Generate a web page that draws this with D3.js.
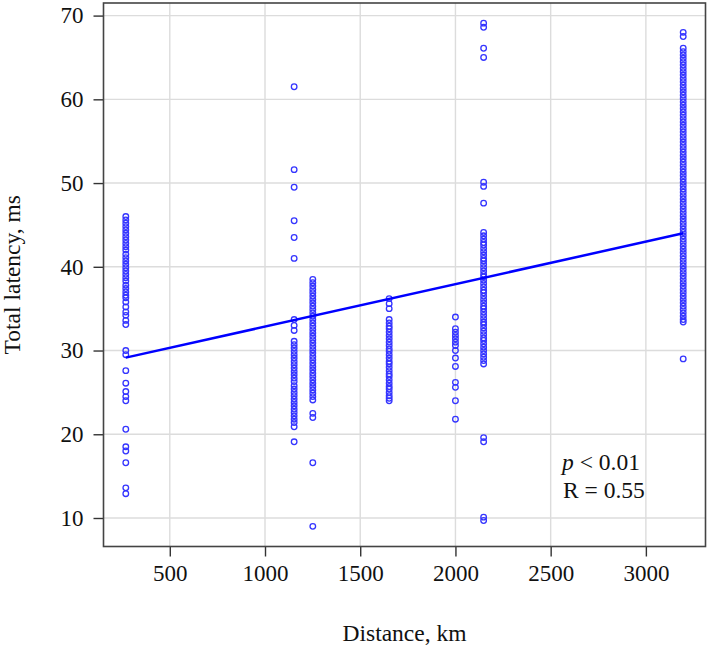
<!DOCTYPE html>
<html>
<head>
<meta charset="utf-8">
<script src="https://cdn.jsdelivr.net/npm/d3@7"></script>
<style>
  html, body { margin: 0; padding: 0; background: #fff; }
  svg { display: block; }
  text { font-family: "Liberation Serif", "Times New Roman", serif; fill: #111; }
</style>
</head>
<body>
<svg id="chart" width="709" height="650"></svg>
<script>
// Distance (km) of each measured column
const distances = [269, 1153, 1251, 1652, 2000, 2148, 3196];

// Total latency (ms) values read from each column
const latency269 = [46.0, 45.6, 45.2, 44.8, 44.4, 44.0, 43.6, 43.2, 42.8, 42.4, 42.0, 41.5, 41.1, 40.7, 40.3, 39.9, 39.5, 39.1, 38.7, 38.3, 37.8, 37.4, 37.0, 36.6, 36.3, 35.8, 35.2, 34.6, 34.2, 33.6, 33.1, 30.0, 29.5, 27.6, 26.1, 25.1, 24.5, 24.0, 20.6, 18.5, 18.0, 16.6, 13.6, 12.9];
const latency1153 = [61.5, 51.6, 49.5, 45.5, 43.5, 41.0, 33.7, 33.0, 32.4, 31.1, 30.7, 30.3, 29.9, 29.5, 29.1, 28.7, 28.3, 27.9, 27.5, 27.1, 26.7, 26.3, 25.8, 25.4, 25.0, 24.6, 24.2, 23.8, 23.4, 23.0, 22.6, 22.2, 21.8, 21.4, 20.9, 19.1];
const latency1251 = [38.5, 38.1, 37.7, 37.3, 36.9, 36.5, 36.1, 35.7, 35.3, 34.9, 34.5, 34.1, 33.7, 33.3, 32.9, 32.5, 32.1, 31.7, 31.3, 30.9, 30.5, 30.1, 29.7, 29.3, 28.9, 28.5, 28.1, 27.7, 27.3, 26.9, 26.5, 26.1, 25.7, 25.3, 24.9, 24.5, 24.1, 22.5, 22.0, 16.6, 9.0];
const latency1652 = [36.2, 35.6, 35.0, 33.7, 33.3, 32.9, 32.6, 32.2, 31.8, 31.4, 31.0, 30.6, 30.2, 29.9, 29.5, 29.1, 28.7, 28.4, 28.0, 27.6, 27.2, 26.9, 26.5, 26.1, 25.7, 25.4, 25.0, 24.6, 24.3, 24.0];
const latency2000 = [34.0, 32.6, 32.2, 31.8, 31.4, 31.0, 30.6, 30.0, 29.1, 28.1, 26.2, 25.6, 24.0, 21.8];
const latency2148 = [69.1, 68.6, 66.1, 65.0, 50.1, 49.6, 47.6, 44.1, 43.7, 43.3, 42.9, 42.6, 42.2, 41.8, 41.4, 41.0, 40.7, 40.3, 39.9, 39.5, 39.1, 38.8, 38.4, 38.0, 37.6, 37.2, 36.9, 36.5, 36.1, 35.7, 35.3, 35.0, 34.6, 34.2, 33.8, 33.4, 33.1, 32.7, 32.3, 31.9, 31.5, 31.2, 30.8, 30.4, 30.0, 29.6, 29.2, 28.8, 28.4, 19.6, 19.1, 10.1, 9.7];
const latency3196 = [68.0, 67.5, 66.1, 65.7, 65.3, 64.9, 64.5, 64.1, 63.7, 63.3, 62.9, 62.5, 62.1, 61.7, 61.3, 60.9, 60.5, 60.1, 59.7, 59.3, 58.9, 58.5, 58.1, 57.7, 57.3, 56.9, 56.5, 56.1, 55.7, 55.3, 54.9, 54.5, 54.1, 53.7, 53.3, 52.9, 52.5, 52.1, 51.7, 51.3, 50.9, 50.5, 50.1, 49.7, 49.3, 48.9, 48.5, 48.1, 47.7, 47.3, 46.9, 46.5, 46.1, 45.7, 45.3, 44.9, 44.5, 44.1, 43.7, 43.3, 42.9, 42.5, 42.1, 41.7, 41.3, 40.9, 40.5, 40.1, 39.7, 39.3, 38.9, 38.5, 38.1, 37.7, 37.3, 36.9, 36.5, 36.1, 35.7, 35.3, 34.9, 34.5, 34.1, 33.7, 33.4, 29.0];
const latencyColumns = [latency269, latency1153, latency1251, latency1652, latency2000, latency2148, latency3196];

// Fitted regression line end points
const fitX = [269, 3196];
const fitY = [29.15, 44.0];

// Ticks
const xTicks = [500, 1000, 1500, 2000, 2500, 3000];
const yTicks = [10, 20, 30, 40, 50, 60, 70];

// Labels
const xLabel = "Distance, km";
const yLabel = "Total latency, ms";
const statP = "< 0.01";
const statR = "R = 0.55";

// ---------- drawing ----------
const svg = d3.select("#chart");
const plot = { left: 103.5, right: 705.5, top: 3, bottom: 546.5 };

const points = [];
distances.forEach((d, i) => latencyColumns[i].forEach(v => points.push({ x: d, y: v })));

const allY = points.map(p => p.y);
const xMin = d3.min(distances), xMax = d3.max(distances);
const yMin = d3.min(allY), yMax = d3.max(allY);
const xPad = (xMax - xMin) * 0.04, yPad = (yMax - yMin) * 0.04;

const x = d3.scaleLinear().domain([xMin - xPad, xMax + xPad]).range([plot.left, plot.right]);
const y = d3.scaleLinear().domain([yMin - yPad, yMax + yPad]).range([plot.bottom, plot.top]);

// gridlines
const grid = svg.append("g").attr("stroke", "#dcdcdc").attr("stroke-width", 1.4);
grid.selectAll("line.vx").data(xTicks).enter().append("line")
  .attr("x1", d => x(d)).attr("x2", d => x(d))
  .attr("y1", plot.top).attr("y2", plot.bottom);
grid.selectAll("line.hy").data(yTicks).enter().append("line")
  .attr("y1", d => y(d)).attr("y2", d => y(d))
  .attr("x1", plot.left).attr("x2", plot.right);

// axes
const xAxis = d3.axisBottom(x).tickValues(xTicks).tickSize(10).tickPadding(8).tickFormat(d3.format("d"));
const yAxis = d3.axisLeft(y).tickValues(yTicks).tickSize(10).tickPadding(10).tickFormat(d3.format("d"));

const gx = svg.append("g").attr("transform", `translate(0,${plot.bottom})`).call(xAxis);
const gy = svg.append("g").attr("transform", `translate(${plot.left},0)`).call(yAxis);
[gx, gy].forEach(g => {
  g.select(".domain").remove();
  g.selectAll(".tick line").attr("stroke", "#333").attr("stroke-width", 1.4);
  g.selectAll(".tick text").style("font-family", '"Liberation Serif", serif').style("font-size", "23px").attr("fill", "#111");
});

// points
svg.append("g").selectAll("circle").data(points).enter().append("circle")
  .attr("cx", d => x(d.x)).attr("cy", d => y(d.y)).attr("r", 2.8)
  .attr("fill", "none").attr("stroke", "#3535ff").attr("stroke-width", 1.3);

// regression line
svg.append("line")
  .attr("x1", x(fitX[0])).attr("y1", y(fitY[0]))
  .attr("x2", x(fitX[1])).attr("y2", y(fitY[1]))
  .attr("stroke", "#0000ff").attr("stroke-width", 2.5);

// frame
svg.append("rect")
  .attr("x", plot.left).attr("y", plot.top)
  .attr("width", plot.right - plot.left).attr("height", plot.bottom - plot.top)
  .attr("fill", "none").attr("stroke", "#444").attr("stroke-width", 1.6);

// axis titles
svg.append("text").attr("x", (plot.left + plot.right) / 2).attr("y", 641)
  .attr("text-anchor", "middle").style("font-size", "23.5px").text(xLabel);
svg.append("text").attr("transform", `translate(20,${(plot.top + plot.bottom) / 2}) rotate(-90)`)
  .attr("text-anchor", "middle").style("font-size", "23.5px").text(yLabel);

// stats annotation
const t1 = svg.append("text").attr("x", 562).attr("y", 470).style("font-size", "23.5px");
t1.append("tspan").style("font-style", "italic").text("p");
t1.append("tspan").text(" " + statP);
svg.append("text").attr("x", 563).attr("y", 498).style("font-size", "23.5px").text(statR);
</script>
</body>
</html>
